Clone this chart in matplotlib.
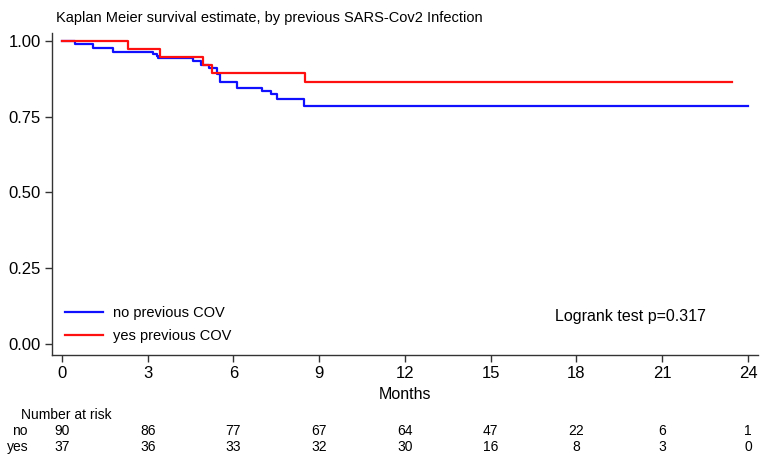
import matplotlib
matplotlib.use("Agg")
import matplotlib.pyplot as plt
from matplotlib.transforms import blended_transform_factory

plt.rcParams['font.family'] = ['Liberation Sans', 'DejaVu Sans']

# survival steps (months, survival)
no_time = [0, 0.45, 1.1, 1.8, 3.2, 3.31, 3.37, 4.6, 4.85, 5.15, 5.41, 5.53, 6.13, 6.99, 7.3, 7.51, 8.47, 24]
no_surv = [1.0, 0.991, 0.977, 0.965, 0.958, 0.951, 0.945, 0.935, 0.921, 0.910, 0.890, 0.866, 0.845, 0.835, 0.824, 0.810, 0.785, 0.785]
yes_time = [0, 2.3, 3.43, 4.95, 5.24, 8.5, 23.45]
yes_surv = [1.0, 0.972, 0.946, 0.921, 0.893, 0.866, 0.866]

risk_months = [0, 3, 6, 9, 12, 15, 18, 21, 24]
risk_no = [90, 86, 77, 67, 64, 47, 22, 6, 1]
risk_yes = [37, 36, 33, 32, 30, 16, 8, 3, 0]

fig = plt.figure(figsize=(7.7, 4.61), dpi=100)
ax = fig.add_axes([0.0675, 0.2299, 0.9169, 0.6985])

ax.step(no_time, no_surv, where='post', color='#1010ff', lw=1.6, label='no previous COV')
ax.step(yes_time, yes_surv, where='post', color='#ff1010', lw=1.6, label='yes previous COV')

ax.set_xlim(-0.35, 24.35)
ax.set_ylim(-0.036, 1.026)
ax.set_xticks(risk_months)
ax.set_yticks([0, 0.25, 0.5, 0.75, 1.0])
ax.set_yticklabels(['0.00', '0.25', '0.50', '0.75', '1.00'])
for s in ['top', 'right']:
    ax.spines[s].set_visible(False)
for s in ['left', 'bottom']:
    ax.spines[s].set_color('#333333')
    ax.spines[s].set_linewidth(1.0)
ax.tick_params(direction='out', length=5, width=1, color='#333333', labelsize=12, pad=3)
ax.set_xlabel('Months', fontsize=11.5, labelpad=4)

fig.text(56 / 770, 1 - 18 / 461, 'Kaplan Meier survival estimate, by previous SARS-Cov2 Infection',
         fontsize=10.5, va='center', ha='left')

leg = ax.legend(loc='lower left', bbox_to_anchor=(0.0, -0.003), frameon=False, fontsize=10.5,
                handlelength=2.6, handletextpad=0.7, labelspacing=0.6)

fig.text(555 / 770, 1 - 317 / 461, 'Logrank test p=0.317', fontsize=11.5, va='center', ha='left')

tr = blended_transform_factory(ax.transData, fig.transFigure)
fig.text(21 / 770, 1 - 415 / 461, 'Number at risk', fontsize=10, va='center', ha='left')
fig.text(12 / 770, 1 - 431 / 461, 'no', fontsize=10, va='center', ha='left')
fig.text(7 / 770, 1 - 447 / 461, 'yes', fontsize=10, va='center', ha='left')
for m, n, y in zip(risk_months, risk_no, risk_yes):
    fig.text(m, 1 - 431 / 461, str(n), fontsize=10, va='center', ha='center', transform=tr)
    fig.text(m, 1 - 447 / 461, str(y), fontsize=10, va='center', ha='center', transform=tr)

fig.savefig('out.png', dpi=100)
